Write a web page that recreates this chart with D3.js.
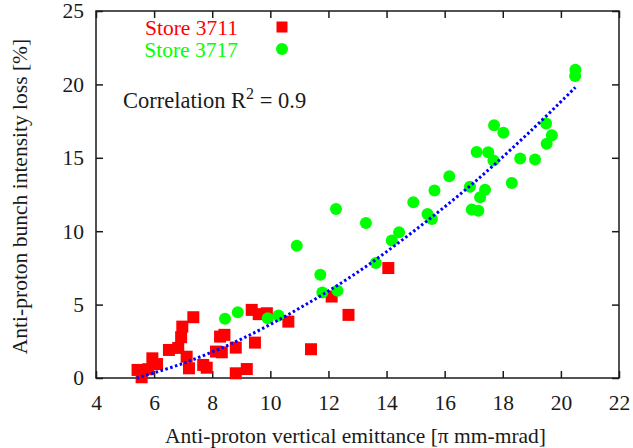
<!DOCTYPE html>
<html>
<head>
<meta charset="utf-8">
<script src="https://cdn.jsdelivr.net/npm/d3@7"></script>
<style>
  html, body { margin: 0; padding: 0; background: #fff; }
  svg text { font-family: "Liberation Serif", "DejaVu Serif", serif; }
</style>
</head>
<body>
<svg id="chart" width="633" height="448"></svg>
<script>
// Store 3711 measurements: emittance [pi mm-mrad] and bunch intensity loss [%]
const store3711X = [5.43, 5.57, 5.80, 5.94, 6.10, 6.51, 6.83, 6.93, 6.97, 7.35,
                    7.12, 7.20, 7.69, 7.81, 8.13, 8.27, 8.42, 8.33, 8.81, 8.81,
                    9.19, 9.36, 9.60, 9.88, 9.47, 10.62, 11.40, 12.11, 12.69, 14.06];
const store3711Y = [0.55, 0.05, 0.60, 1.34, 0.95, 1.91, 2.05, 2.78, 3.50, 4.14,
                    1.45, 0.66, 0.89, 0.70, 1.80, 2.82, 2.94, 1.75, 2.07, 0.32,
                    0.61, 4.64, 4.35, 4.41, 2.41, 3.84, 1.96, 5.55, 4.30, 7.49];

// Store 3717 measurements
const store3717X = [8.44, 8.88, 9.91, 10.28, 10.91, 11.72, 11.79, 12.31, 12.26, 13.29,
                    13.63, 14.18, 14.43, 14.92, 15.41, 15.56, 15.65, 16.16, 16.87, 16.93,
                    17.16, 17.10, 17.22, 17.39, 17.50, 17.68, 17.70, 18.02, 18.31, 18.60,
                    19.11, 19.49, 19.51, 19.69, 20.49, 20.50];
const store3717Y = [4.03, 4.48, 4.07, 4.25, 9.01, 7.03, 5.82, 5.94, 11.51, 10.56,
                    7.83, 9.37, 9.92, 11.97, 11.17, 10.83, 12.78, 13.74, 13.02, 11.47,
                    11.40, 15.40, 12.31, 12.83, 15.38, 14.81, 17.22, 16.70, 13.29, 14.95,
                    14.88, 17.34, 15.95, 16.54, 20.57, 21.00];

// Fitted trend curve, sampled along its length
const fitX = [5.4, 7.0, 9.0, 11.0, 13.0, 15.0, 17.0, 19.0, 20.5];
const fitY = [0.0, 1.0, 2.65, 4.75, 7.2, 10.1, 13.3, 16.9, 19.8];

// Axis ticks
const xTicks = [4, 6, 8, 10, 12, 14, 16, 18, 20, 22];
const yTicks = [0, 5, 10, 15, 20, 25];

const seriesNames = ["Store 3711", "Store 3717"];
const seriesColors = ["#ff0000", "#00ff00"];
const xTitle = "Anti-proton vertical emittance [\u03c0 mm-mrad]";
const yTitle = "Anti-proton bunch intensity loss [%]";

const W = 633, H = 448;
const margin = { left: 96, right: 14, top: 11, bottom: 70 };
const svg = d3.select("#chart");

const x = d3.scaleLinear().domain([4, 22]).range([margin.left, W - margin.right]);
const y = d3.scaleLinear().domain([0, 25]).range([H - margin.bottom, margin.top]);

const ink = "#1a1a1a";
const fontSize = 21.5;

// Frame and inward ticks on all four sides
const frame = svg.append("g");
frame.append("rect")
  .attr("x", x(4)).attr("y", y(25))
  .attr("width", x(22) - x(4)).attr("height", y(0) - y(25))
  .attr("fill", "none").attr("stroke", ink).attr("stroke-width", 1.5);

const tickLen = 7;
const xAxisB = d3.axisBottom(x).tickValues(xTicks).tickSize(-tickLen).tickPadding(17).tickFormat(d3.format("d"));
const xAxisT = d3.axisTop(x).tickValues(xTicks).tickSize(-tickLen).tickFormat("");
const yAxisL = d3.axisLeft(y).tickValues(yTicks).tickSize(-tickLen).tickPadding(12).tickFormat(d3.format("d"));
const yAxisR = d3.axisRight(y).tickValues(yTicks).tickSize(-tickLen).tickFormat("");

function styleAxis(g) {
  g.select(".domain").remove();
  g.selectAll(".tick line").attr("stroke", ink).attr("stroke-width", 1.5);
  g.selectAll(".tick text").attr("fill", ink).attr("font-size", fontSize)
    .attr("font-family", "Liberation Serif, serif");
}

svg.append("g").attr("transform", `translate(0,${y(0)})`).call(xAxisB).call(styleAxis);
svg.append("g").attr("transform", `translate(0,${y(25)})`).call(xAxisT).call(styleAxis);
svg.append("g").attr("transform", `translate(${x(4)},0)`).call(yAxisL).call(styleAxis);
svg.append("g").attr("transform", `translate(${x(22)},0)`).call(yAxisR).call(styleAxis);

// Axis titles
svg.append("text")
  .attr("x", (x(4) + x(22)) / 2 - 2).attr("y", 443)
  .attr("text-anchor", "middle").attr("font-size", fontSize).attr("fill", ink)
  .text(xTitle);
svg.append("text")
  .attr("transform", `translate(27,${(y(0) + y(25)) / 2 + 2}) rotate(-90)`)
  .attr("text-anchor", "middle").attr("font-size", fontSize).attr("fill", ink)
  .text(yTitle);

// Data points
const sq = 12;
const s1 = d3.zip(store3711X, store3711Y);
const s2 = d3.zip(store3717X, store3717Y);

svg.append("g").selectAll("rect").data(s1).join("rect")
  .attr("x", d => x(d[0]) - sq / 2).attr("y", d => y(d[1]) - sq / 2)
  .attr("width", sq).attr("height", sq)
  .attr("fill", seriesColors[0]);

svg.append("g").selectAll("circle").data(s2).join("circle")
  .attr("cx", d => x(d[0])).attr("cy", d => y(d[1])).attr("r", 6)
  .attr("fill", seriesColors[1]);

// Trend curve, dotted
const line = d3.line().x(d => x(d[0])).y(d => y(d[1])).curve(d3.curveCatmullRom);
svg.append("path")
  .datum(d3.zip(fitX, fitY))
  .attr("d", line)
  .attr("fill", "none").attr("stroke", "#0000ff")
  .attr("stroke-width", 3).attr("stroke-dasharray", "2.5,2.5");

// Key
const key = svg.append("g");
const keyRows = [27, 49];
seriesNames.forEach((name, i) => {
  key.append("text")
    .attr("x", 238).attr("y", keyRows[i]).attr("dy", "0.35em")
    .attr("text-anchor", "end").attr("font-size", fontSize)
    .attr("fill", seriesColors[i]).text(name);
});
key.append("rect")
  .attr("x", 282 - 5.5).attr("y", keyRows[0] - 5.5).attr("width", 11).attr("height", 11)
  .attr("fill", seriesColors[0]);
key.append("circle")
  .attr("cx", 282).attr("cy", keyRows[1]).attr("r", 6)
  .attr("fill", seriesColors[1]);

// Correlation label
const corr = svg.append("text")
  .attr("x", 123).attr("y", 108).attr("font-size", 22.5).attr("fill", ink);
corr.append("tspan").text("Correlation R");
corr.append("tspan").attr("dy", -9).attr("font-size", 16).text("2");
corr.append("tspan").attr("dy", 9).text(" = 0.9");
</script>
</body>
</html>
